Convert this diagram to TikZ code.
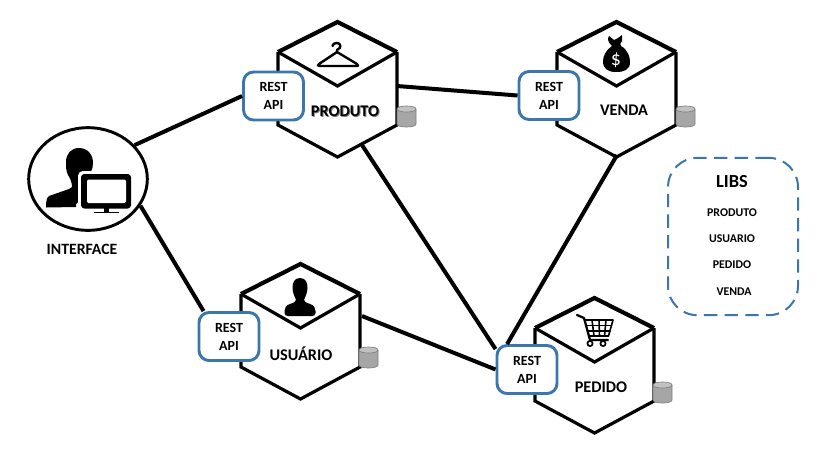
\documentclass[tikz,border=0pt]{standalone}
\usepackage{fontspec}
\setmainfont{Carlito}
\usetikzlibrary{shapes.geometric}
\definecolor{restblue}{HTML}{3B76AC}
\definecolor{cylgray}{HTML}{A6A6A6}
\definecolor{cyledge}{HTML}{7F7F7F}
\tikzset{
  hexline/.style={line width=2.4pt,line join=miter,black},
  hextop/.style={line width=3.1pt,line join=miter,black},
  link/.style={line width=3pt,black},
  restbox/.style={draw=restblue,line width=2.2pt,fill=white,rounded corners=7.5pt,minimum width=45pt,minimum height=36pt,inner sep=0pt,align=center,font=\bfseries\fontsize{10.5}{13.5}\selectfont,execute at begin node=\rule{0pt}{8.8pt}},
  hexlabel/.style={font=\bfseries\fontsize{12.2}{13}\selectfont,inner sep=0pt},
  liblabel/.style={font=\bfseries\fontsize{8.9}{10}\selectfont,inner sep=0pt},
  icon/.style={fill=black,draw=none},
  ifacecircle/.style={draw=black,line width=2.2pt,fill=white,ellipse,minimum width=89pt,minimum height=77pt,inner sep=0pt}
}
% #1 x of left, #2 y of upper corners
\newcommand{\hexcube}[2]{%
  \begin{scope}[shift={(#1,#2)}]
    \fill[white] (0,0) -- (59.5,-30) -- (119,0) -- (119,73) -- (59.5,105) -- (0,73) -- cycle;
    \draw[hexline] (119,0) -- (119,73) -- (59.5,105) -- (0,73) -- (0,0);
    \draw[hexline] (0,0) -- (59.5,34) -- (119,0);
    \draw[hextop] (0,0) -- (59.5,-30) -- (119,0);
  \end{scope}}
\newcommand{\dbcyl}[2]{%
  \begin{scope}[shift={(#1,#2)}]
    \path[fill=cylgray,draw=cyledge,line width=.5pt] (0,3) -- (0,18) .. controls (0,22) and (19,22) .. (19,18) -- (19,3);
    \path[fill=cylgray!70!white,draw=cyledge,line width=.5pt] (0,3) .. controls (0,-1) and (19,-1) .. (19,3) .. controls (19,7) and (0,7) .. (0,3) -- cycle;
  \end{scope}}
\begin{document}
\begin{tikzpicture}[x=0.75pt,y=-0.75pt]
\useasboundingbox (0,0) rectangle (830,454);
\fill[white] (0,0) rectangle (830,454);

% free ends of connectors on the cubes
\coordinate (prodE) at (397,86);
\coordinate (prodS) at (362,145);
\coordinate (vendS) at (617,155);
\coordinate (usuE) at (362,316);

% cubes
\hexcube{278}{52}
\hexcube{557}{52}
\hexcube{241}{294}
\hexcube{535}{328}

% nodes
\node[ifacecircle] (iface) at (88,179) {};
\node[restbox] (restP) at (273.5,96) {REST\\API};
\node[restbox] (restV) at (549,95.5) {REST\\API};
\node[restbox] (restU) at (229,336.5) {REST\\API};
\node[restbox] (restD) at (527,369.5) {REST\\API};

% connectors
\draw[link] (iface.36) -- (restP.west);
\draw[link] (iface.-27) -- (restU.135);
\draw[link] (prodE) -- (restV.west);
\draw[link] (prodS) -- (restD.147);
\draw[link] (vendS) -- (restD.128);
\draw[link] (usuE) -- (restD.180);

% databases
\dbcyl{397}{106}
\dbcyl{676}{106}
\dbcyl{359}{347}
\dbcyl{653}{382}

% labels
\node[hexlabel,text=black!50] (prodshadow) at (346,112) {PRODUTO};
\node[hexlabel] (prodL) at (345,111) {PRODUTO};
\node[hexlabel] (vendL) at (624,110) {VENDA};
\node[hexlabel] (usuL) at (301,354) {USUÁRIO};
\node[hexlabel] (pedL) at (601,387) {PEDIDO};
\node[hexlabel,font=\bfseries\fontsize{11.8}{12}\selectfont] (ifaceL) at (82,249) {INTERFACE};

% libs
\node[draw=restblue,line width=1.5pt,dash pattern=on 10pt off 5.5pt,rounded corners=22pt,minimum width=97.5pt,minimum height=118pt,inner sep=0pt] (libs) at (733,236.5) {};
\node[font=\bfseries\fontsize{13.8}{14}\selectfont,inner sep=0pt] (libT) at (732,182) {LIBS};
\node[liblabel] (lib1) at (732,213) {PRODUTO};
\node[liblabel] (lib2) at (732,239) {USUARIO};
\node[liblabel] (lib3) at (732,265) {PEDIDO};
\node[liblabel] (lib4) at (734,292) {VENDA};

% hanger icon
\draw[line width=1.8pt,line join=round,line cap=round] (337,52) -- (357,64) .. controls (359,66) and (358,66) .. (356,66) -- (320,66) .. controls (318,66) and (317,65) .. (319,64) -- (337,52) -- (337,50) .. controls (342,48) and (341,43) .. (337,43) .. controls (334,43) and (333,44) .. (332.5,46);

% money bag icon
\fill[icon] (612,46) .. controls (608,42) and (607,39) .. (609,36) -- (614,40) -- (618,38) -- (622,35) -- (622,41) .. controls (620,43) and (620,45) .. (621,46) .. controls (628,50) and (630,57) .. (630,62) .. controls (630,70) and (624,72) .. (616,72) .. controls (608,72) and (603,69) .. (603,61) .. controls (603,56) and (606,50) .. (612,46) -- cycle;
\node[text=white,font=\fontsize{15}{15}\selectfont,inner sep=0pt] (dollar) at (616,60) {\$};

% person icon
\fill[icon] (300,278) .. controls (306,278) and (307.5,283) .. (307.5,288) .. controls (307.5,293) and (305,297) .. (304,300) .. controls (304,302) and (307,303) .. (310,304) .. controls (314,305) and (315.5,308) .. (315.5,311) -- (315.5,313) .. controls (315.5,315) and (314,316) .. (312,316) -- (288,316) .. controls (286,316) and (284.5,315) .. (284.5,313) -- (284.5,311) .. controls (284.5,308) and (286,305) .. (290,304) .. controls (293,303) and (296,302) .. (296,300) .. controls (295,297) and (292.5,293) .. (292.5,288) .. controls (292.5,283) and (294,278) .. (300,278) -- cycle;

% cart icon
\begin{scope}[line width=1.2pt,line join=round,line cap=round]
  \draw[line width=1.7pt] (577,315) -- (584,318) -- (590,340) -- (608,340);
  \draw (584.5,320) -- (613,320) -- (608.5,336) -- (589,336);
  \draw (586,325.5) -- (611.5,325.5) (587.5,331) -- (610,331);
  \draw (592,320) -- (594,336) (599,320) -- (599.5,336) (606,320) -- (604.5,336);
  \draw[line width=1.3pt,fill=white] (590,343.5) circle[radius=2.6];
  \draw[line width=1.3pt,fill=white] (603,343.5) circle[radius=2.6];
\end{scope}

% user and monitor icon
\fill[icon] (79,148) .. controls (88,148) and (93,155) .. (93,163) .. controls (93,170) and (90,173) .. (88,176) -- (84,196) -- (76,204) -- (76,207) -- (46,207.5) .. controls (46,201) and (47,197) .. (49,196) -- (69,189) -- (72,187) .. controls (72,182) and (70,178) .. (68,175) .. controls (66,171) and (66,167) .. (66,162) .. controls (66,154) and (71,148) .. (79,148) -- cycle;
\draw[white,line width=1.5pt,fill=white,rounded corners=3pt] (79,172) rectangle (133,210);
\fill[icon,rounded corners=2.5pt] (81,174) rectangle (131,208.5);
\fill[white,rounded corners=1pt] (87,179.5) rectangle (126,203);
\fill[icon] (104,208) rectangle (109,212);
\fill[icon] (94,211.5) rectangle (119,213);
\end{tikzpicture}
\end{document}
